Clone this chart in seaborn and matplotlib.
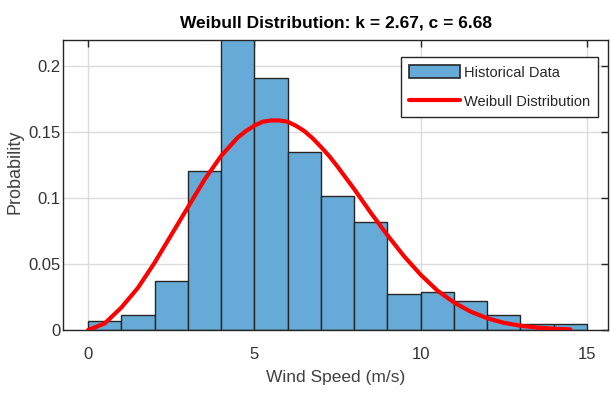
import matplotlib
matplotlib.use("Agg")
import matplotlib.pyplot as plt
import seaborn as sns
from matplotlib.patches import Patch
from matplotlib.lines import Line2D

# histogram: probability per 1 m/s bin
bin_edges = [0, 1, 2, 3, 4, 5, 6, 7, 8, 9, 10, 11, 12, 13, 14, 15]
bin_probs = [0.0067, 0.0112, 0.0372, 0.1208, 0.225, 0.1909, 0.1351, 0.1014,
             0.0822, 0.0275, 0.0287, 0.0219, 0.0115, 0.0045, 0.0045]

# fitted Weibull curve
curve_x = [0, 0.5, 1, 1.5, 2, 2.5, 3, 3.5, 3.75, 4, 4.25, 4.5, 4.75, 5, 5.25,
           5.5, 5.75, 6, 6.25, 6.5, 6.75, 7, 7.25, 7.5, 8, 8.5, 9, 9.5, 10,
           10.5, 11, 11.5, 12, 12.5, 13, 13.5, 14, 14.5]
curve_y = [0.0, 0.005, 0.017, 0.032, 0.051, 0.072, 0.093, 0.114, 0.123, 0.132,
           0.139, 0.146, 0.151, 0.155, 0.158, 0.159, 0.159, 0.158, 0.155, 0.151,
           0.1455, 0.139, 0.132, 0.124, 0.107, 0.089, 0.072, 0.056, 0.042,
           0.030, 0.021, 0.014, 0.009, 0.0055, 0.0033, 0.0019, 0.001, 0.0005]

title = "Weibull Distribution: k = 2.67, c = 6.68"
x_ticks = [0, 5, 10, 15]
y_ticks = [0, 0.05, 0.1, 0.15, 0.2]
y_tick_labels = ["0", "0.05", "0.1", "0.15", "0.2"]

sns.set_style("white")
plt.rcParams["font.family"] = ["Liberation Sans", "DejaVu Sans"]

bar_color = "#66aad7"
dark = "#262626"

fig = plt.figure(figsize=(6.1, 4.07), dpi=100)
ax = fig.add_axes([0.1033, 0.189, 0.8934, 0.7127])

centers = [(a + b) / 2 for a, b in zip(bin_edges[:-1], bin_edges[1:])]
sns.histplot(x=centers, weights=bin_probs, bins=bin_edges, stat="count",
             color=bar_color, alpha=1, edgecolor=dark, linewidth=1.0, ax=ax, zorder=2)
sns.lineplot(x=curve_x, y=curve_y, color="red", linewidth=3.0, ax=ax, zorder=3,
             solid_joinstyle="round", solid_capstyle="round")

ax.set_xlim(-0.75, 15.63)
ax.set_ylim(0, 0.22)
ax.set_xticks(x_ticks)
ax.set_yticks(y_ticks)
ax.set_yticklabels(y_tick_labels)
ax.grid(True, color="#dcdcdc", linewidth=1.0, zorder=0)
ax.set_axisbelow(True)
ax.tick_params(direction="in", top=True, right=True, length=5, width=1,
               colors=dark, labelsize=12, labelcolor="#333333")
ax.tick_params(axis="x", pad=12)
ax.tick_params(axis="y", pad=2)
for s in ax.spines.values():
    s.set_color(dark)
    s.set_linewidth(1.0)

ax.set_title(title, fontsize=12.5, fontweight="bold", color="black", pad=9)
ax.set_xlabel("Wind Speed (m/s)", fontsize=12.5, color="#404040", labelpad=6)
ax.set_ylabel("Probability", fontsize=13, color="#404040")
ax.yaxis.set_label_coords(-0.072, 0.545)

handles = [Patch(facecolor=bar_color, edgecolor=dark, linewidth=1.2),
           Line2D([0], [0], color="red", linewidth=3.0)]
ax.legend(handles, ["Historical Data", "Weibull Distribution"], loc="upper right",
          fontsize=10.5, frameon=True, fancybox=False, edgecolor=dark,
          framealpha=1, borderpad=0.55, handlelength=3.5, handleheight=1.0,
          handletextpad=0.3, labelspacing=1.0, borderaxespad=0,
          bbox_to_anchor=(0.982, 0.941))

fig.savefig("out.png", dpi=100)
